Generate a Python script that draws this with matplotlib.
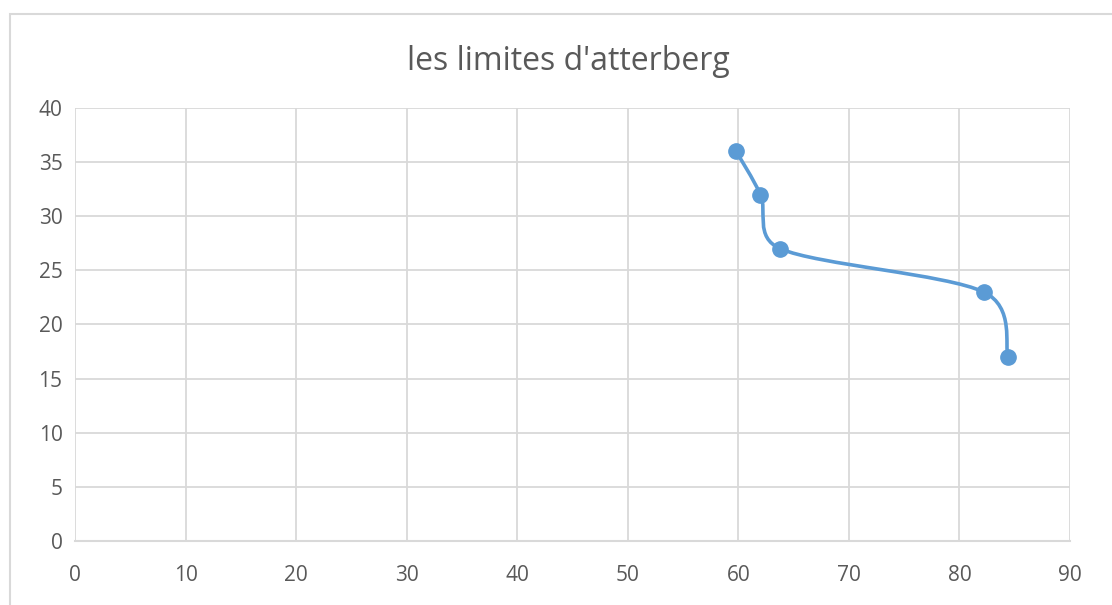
import numpy as np
import matplotlib.pyplot as plt
from matplotlib.path import Path
from matplotlib.patches import PathPatch, Rectangle

# data
x_vals = [59.8, 62.0, 63.8, 82.2, 84.4]
y_vals = [36, 32, 27, 23, 17]
x_ticks = [0, 10, 20, 30, 40, 50, 60, 70, 80, 90]
y_ticks = [0, 5, 10, 15, 20, 25, 30, 35, 40]
title = "les limites d'atterberg"

blue = '#5B9BD5'
grid_c = '#D9D9D9'
text_c = '#595959'

plt.rcParams['font.family'] = ['Open Sans', 'DejaVu Sans']

fig = plt.figure(figsize=(11.12, 6.05), dpi=100)
ax = fig.add_axes([75 / 1112, 1 - 541 / 605, 995 / 1112, 433 / 605])
ax.set_xlim(0, 90)
ax.set_ylim(0, 40)

# chart border like excel
fig.patches.append(Rectangle((10 / 1112, -0.05), 1.2, 1 - 14 / 605 + 0.05,
                             transform=fig.transFigure, fill=False,
                             edgecolor=grid_c, lw=1.5))

# excel-like smoothed line: bezier with 1/6 tangents, capped at half the
# segment length (worked out in pixel space, then mapped back to data)
sx = 995 / 90
sy = 433 / 40
pts = np.column_stack([x_vals, y_vals]) * [sx, sy]
n = len(pts)


def ctrl(a, b, seg):
    d = b - a
    L = np.hypot(*d)
    if L == 0:
        return np.zeros(2)
    off = L / 6
    if off > seg / 2:
        off = seg / 2
    return d / L * off


verts = [pts[0]]
codes = [Path.MOVETO]
for i in range(n - 1):
    p0 = pts[i - 1] if i > 0 else pts[i]
    p1 = pts[i]
    p2 = pts[i + 1]
    p3 = pts[i + 2] if i + 2 < n else pts[i + 1]
    seg = np.hypot(*(p2 - p1))
    c1 = p1 + ctrl(p0, p2, seg)
    c2 = p2 - ctrl(p1, p3, seg)
    verts += [c1, c2, p2]
    codes += [Path.CURVE4] * 3
verts = np.array(verts) / [sx, sy]
ax.add_patch(PathPatch(Path(verts, codes), fill=False, edgecolor=blue,
                       lw=2.6, capstyle='round', zorder=3))
ax.plot(x_vals, y_vals, 'o', color=blue, markersize=11, zorder=4)

ax.set_xticks(x_ticks)
ax.set_yticks(y_ticks)
ax.grid(True, color=grid_c, lw=1.3)
ax.set_axisbelow(True)
for s in ['top', 'right', 'left']:
    ax.spines[s].set_visible(False)
ax.spines['bottom'].set_color(grid_c)
ax.spines['bottom'].set_linewidth(1.5)
ax.tick_params(length=0, labelsize=15, labelcolor=text_c)
ax.tick_params(axis='x', pad=17)
ax.tick_params(axis='y', pad=9)

fig.text(568 / 1112, 1 - 61 / 605, title, ha='center', va='center',
         fontsize=23, color=text_c)

fig.savefig('out.png', dpi=100)
